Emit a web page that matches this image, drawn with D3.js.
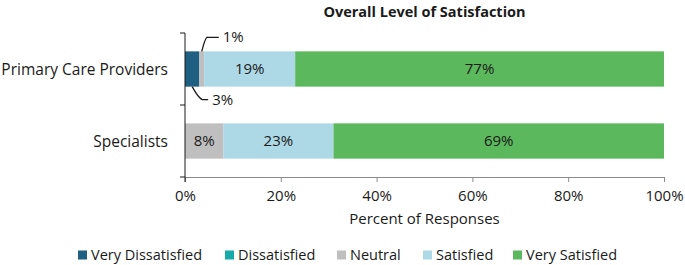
<!DOCTYPE html>
<html>
<head>
<meta charset="utf-8">
<script src="https://cdn.jsdelivr.net/npm/d3@7"></script>
<style>
    body { margin: 0; background: #fff; }
    svg text { font-family: "Open Sans", "Noto Sans", sans-serif; fill: #1a1a1a; }
</style>
</head>
<body>
<svg id="chart" width="685" height="265"></svg>
<script>
const categories = ["Primary Care Providers", "Specialists"];
const seriesNames = ["Very Dissatisfied", "Dissatisfied", "Neutral", "Satisfied", "Very Satisfied"];
const seriesColors = ["#1f5f82", "#17aaa8", "#bfbfbf", "#add8e6", "#5cb85c"];
const veryDissatisfied = [3, 0];
const dissatisfied = [0, 0];
const neutral = [1, 8];
const satisfied = [19, 23];
const verySatisfied = [77, 69];
const xTicks = [0, 20, 40, 60, 80, 100];

const values = [veryDissatisfied, dissatisfied, neutral, satisfied, verySatisfied];

const rows = categories.map((c, i) => {
    const r = { category: c };
    seriesNames.forEach((s, k) => { r[s] = values[k][i]; });
    return r;
});

const svg = d3.select("#chart");
const margin = { left: 185, right: 21, top: 33, bottom: 88 };
const width = 685, height = 265;

const x = d3.scaleLinear().domain([0, 100]).range([margin.left, width - margin.right]);
const y = d3.scaleBand().domain(categories).range([margin.top, height - margin.bottom]).paddingInner(0.51).paddingOuter(0.255);

const stacked = d3.stack().keys(seriesNames)(rows);

// title
svg.append("text")
    .attr("x", (x(0) + x(100)) / 2)
    .attr("y", 17)
    .attr("text-anchor", "middle")
    .attr("font-size", "14.5px")
    .attr("font-weight", "bold")
    .text("Overall Level of Satisfaction");

// bars
const groups = svg.append("g").selectAll("g")
    .data(stacked)
    .enter()
    .append("g")
    .attr("fill", (d, i) => seriesColors[i]);

groups.selectAll("rect")
    .data(d => d)
    .enter()
    .append("rect")
    .attr("x", d => x(d[0]))
    .attr("y", d => y(d.data.category))
    .attr("width", d => x(d[1]) - x(d[0]))
    .attr("height", y.bandwidth());

// labels inside segments
stacked.forEach(layer => {
    layer.forEach(d => {
        const v = d[1] - d[0];
        if (v < 5) return;
        svg.append("text")
            .attr("x", (x(d[0]) + x(d[1])) / 2)
            .attr("y", y(d.data.category) + y.bandwidth() / 2 + 5)
            .attr("text-anchor", "middle")
            .attr("font-size", "15px")
            .text(v + "%");
    });
});

// small labels with leader lines
const leaders = [
    { series: "Neutral", cat: 0, dir: -1, dx: 5, dy: 14, run: 12 },
    { series: "Very Dissatisfied", cat: 0, dir: 1, dx: 10, dy: 13, run: 6 }
];
leaders.forEach(l => {
    const layer = stacked.find(s => s.key === l.series);
    const d = layer[l.cat];
    const v = d[1] - d[0];
    const cx = (x(d[0]) + x(d[1])) / 2;
    const yEdge = l.dir < 0 ? y(categories[l.cat]) : y(categories[l.cat]) + y.bandwidth();
    const yEnd = yEdge + l.dir * l.dy;
    svg.append("path")
        .attr("d", `M${cx},${yEdge} Q${cx + l.dx * 0.6},${yEnd - l.dir * 2} ${cx + l.dx},${yEnd} L${cx + l.dx + l.run},${yEnd}`)
        .attr("fill", "none")
        .attr("stroke", "#1a1a1a")
        .attr("stroke-width", 1.3);
    svg.append("text")
        .attr("x", cx + l.dx + l.run + 4)
        .attr("y", yEnd + 5)
        .attr("font-size", "15px")
        .text(v + "%");
});

// x axis
const xAxis = svg.append("g")
    .attr("transform", `translate(0,${height - margin.bottom})`)
    .call(d3.axisBottom(x).tickValues(xTicks).tickFormat(d => d + "%").tickSizeOuter(0).tickSize(5).tickPadding(8));
xAxis.select(".domain").attr("stroke", "#8a8a8a");
xAxis.selectAll(".tick line").attr("stroke", "#8a8a8a");
xAxis.selectAll("text").attr("font-size", "15px").attr("fill", "#1a1a1a");

svg.append("text")
    .attr("x", (x(0) + x(100)) / 2)
    .attr("y", 224)
    .attr("text-anchor", "middle")
    .attr("font-size", "15px")
    .text("Percent of Responses");

// y axis with ticks at band boundaries
const yAxis = svg.append("g").attr("transform", `translate(${x(0)},0)`);
yAxis.append("line")
    .attr("x1", 0).attr("x2", 0)
    .attr("y1", margin.top).attr("y2", height - margin.bottom + 5)
    .attr("stroke", "#1a1a1a");
const bounds = [margin.top, (margin.top + height - margin.bottom) / 2, height - margin.bottom];
yAxis.selectAll(".bt")
    .data(bounds)
    .enter()
    .append("line")
    .attr("x1", -5).attr("x2", 0)
    .attr("y1", d => d).attr("y2", d => d)
    .attr("stroke", "#1a1a1a");
yAxis.selectAll(".cl")
    .data(categories)
    .enter()
    .append("text")
    .attr("x", -17)
    .attr("y", d => y(d) + y.bandwidth() / 2 + 6)
    .attr("text-anchor", "end")
    .attr("font-size", "15.5px")
    .text(d => d);

// legend
const legendX = [78, 225, 337, 423, 513];
const legend = svg.append("g").selectAll("g")
    .data(seriesNames)
    .enter()
    .append("g")
    .attr("transform", (d, i) => `translate(${legendX[i]},255)`);
legend.append("rect")
    .attr("x", 0).attr("y", -4.5)
    .attr("width", 9).attr("height", 9)
    .attr("fill", (d, i) => seriesColors[i]);
legend.append("text")
    .attr("x", 13)
    .attr("y", 5)
    .attr("font-size", "14.5px")
    .text(d => d);
</script>
</body>
</html>
